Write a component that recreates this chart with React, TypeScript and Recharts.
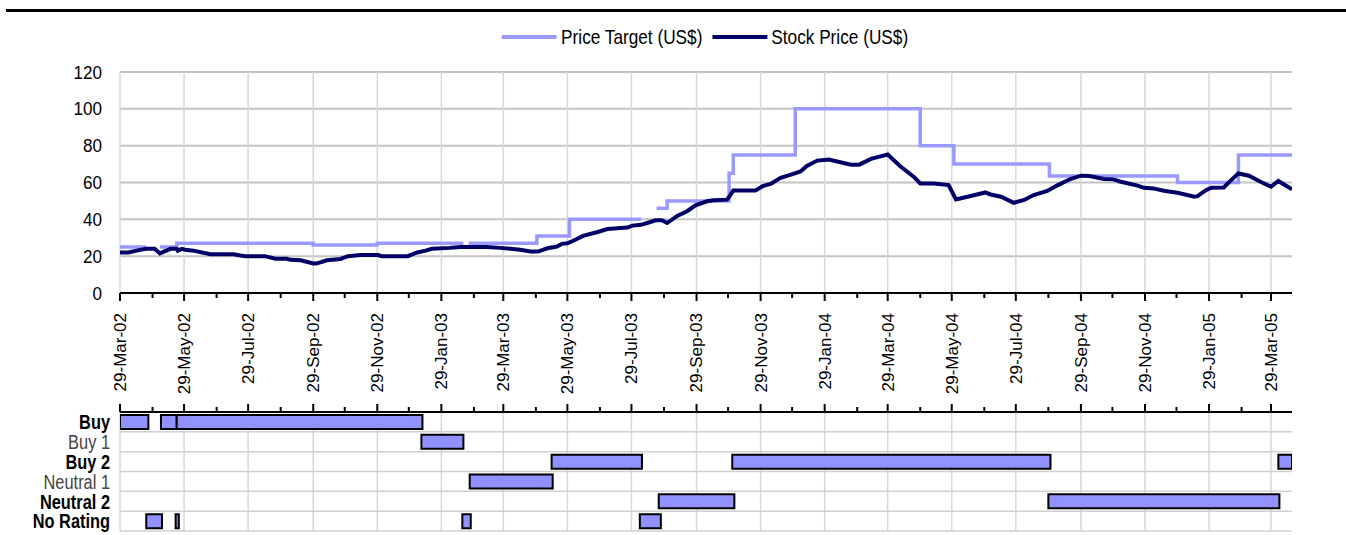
import {
  Bar,
  BarChart,
  CartesianGrid,
  Line,
  LineChart,
  ReferenceLine,
  XAxis,
  YAxis,
} from "recharts";

// no Arial Narrow here: Liberation Sans squeezed horizontally stands in for it
const SANS = "'Liberation Sans', Arial, sans-serif";
const NARROW_SCALE = 0.82;

const TARGET_COLOR = "#9999ff";
const STOCK_COLOR = "#000066";
const BAR_COLOR = "#9191ff";

const DAY_MS = 86400000;
const START = Date.UTC(2002, 2, 29); // day 0 = 29-Mar-02
const LAST_DAY = 1116;
const MONTHS = ["Jan", "Feb", "Mar", "Apr", "May", "Jun", "Jul", "Aug", "Sep", "Oct", "Nov", "Dec"];

// stock price, x = days since 29-Mar-02
const stockDays = [
  0, 8, 19, 25, 33, 38, 48, 54, 55, 59, 62, 70, 86, 108, 119, 138, 148, 159, 162, 172,
  184, 187, 197, 210, 217, 229, 246, 249, 274, 283, 291, 297, 314, 324, 349, 362, 381, 391, 398, 407,
  416, 421, 426, 432, 441, 454, 464, 477, 483, 488, 496, 502, 510, 516, 521, 531, 540, 548, 559, 565,
  578, 581, 584, 605, 612, 620, 629, 639, 648, 654, 664, 675, 696, 704, 715, 727, 731, 743, 756, 762,
  775, 789, 796, 807, 816, 824, 829, 839, 851, 861, 870, 883, 893, 905, 915, 923, 937, 946, 953, 969,
  975, 984, 994, 1007, 1023, 1026, 1034, 1039, 1051, 1058, 1065, 1075, 1086, 1096, 1103, 1116,
];
const stockPrices = [
  22, 22, 23.4, 24, 24, 21.5, 24, 24, 23, 24, 23.5, 23, 21, 21, 20, 20, 18.6, 18.6, 18, 17.8,
  16, 16, 17.8, 18.5, 20, 20.6, 20.6, 20, 20, 22, 23, 24, 24.5, 25, 25, 24.5, 23.5, 22.5, 22.5, 24.3,
  25.2, 26.7, 27, 28.5, 31, 33, 34.7, 35.3, 35.5, 36.6, 37, 38, 39.5, 39.5, 38, 42, 44.4, 47.6, 49.8, 50.4,
  50.7, 53, 55.6, 55.6, 58, 59.4, 62.5, 64.3, 66, 69, 71.9, 72.5, 69.7, 69.7, 72.8, 74.6, 75.2, 68.8, 63, 59.5,
  59.5, 58.6, 50.8, 52.3, 53.5, 54.6, 53.5, 52.3, 49, 50.5, 53.2, 55.4, 58.6, 61.9, 63.7, 63.5, 61.9, 61.7, 60.4, 58.3,
  57.1, 56.8, 55.5, 54.4, 52.3, 52.6, 55.8, 57.1, 57.3, 61.3, 64.9, 63.7, 60.4, 57.7, 60.8, 56.3,
];

// price target steps (null = no rating, line breaks)
const targetDays = [0, 25, 31, 38, 54, 184, 245, 327, 329, 332, 397, 428, 496, 503, 511, 521, 580, 584, 643, 762, 794, 885, 1007, 1065, 1116];
const targetPrices = [25, 25, null, 25, 27, 26, 27, 27, null, 27, 31, 40, 40, null, 46, 50, 65, 75, 100, 80, 70, 63.5, 60, 75, 75];

const priceTicks = [0, 20, 40, 60, 80, 100, 120];

// rating history, [from, to] in days since 29-Mar-02
const ratingNames = ["Buy", "Buy 1", "Buy 2", "Neutral 1", "Neutral 2", "No Rating"];
const boldRatings = ["Buy", "Buy 2", "Neutral 2", "No Rating"];
const buyPeriods = [[0, 27], [39, 54], [54, 288]];
const buy1Periods = [[287, 327]];
const buy2Periods = [[411, 497], [583, 886], [1103, 1116]];
const neutral1Periods = [[333, 412]];
const neutral2Periods = [[513, 585], [884, 1104]];
const noRatingPeriods = [[25, 40], [53, 56], [326, 334], [495, 515]];

const ratingPeriods = [buyPeriods, buy1Periods, buy2Periods, neutral1Periods, neutral2Periods, noRatingPeriods];
const periodKeys = ["p0", "p1", "p2", "p3"];

const stockData = stockDays.map((day, i) => ({ day, price: stockPrices[i] }));
const targetData = targetDays.map((day, i) => ({ day, price: targetPrices[i] }));
const ratingRows = ratingNames.map((rating, i) => {
  const row: Record<string, any> = { rating };
  periodKeys.forEach((key, k) => {
    row[key] = ratingPeriods[i][k];
  });
  return row;
});

// ticks on the 29th of every month, labelled every second month
const monthTicks = Array.from({ length: 37 }, (_, i) =>
  Math.round((Date.UTC(2002, 2 + i, 29) - START) / DAY_MS)
);
const labelledTicks = monthTicks.filter((_, i) => i % 2 === 0);

function dateLabel(day: number) {
  const d = new Date(START + day * DAY_MS);
  return `${d.getUTCDate()}-${MONTHS[d.getUTCMonth()]}-${String(d.getUTCFullYear()).slice(2)}`;
}

function PriceDateTick({ x, y, payload }: any) {
  const major = labelledTicks.includes(payload.value);
  return (
    <g>
      <line x1={x} x2={x} y1={y} y2={y + (major ? 8 : 5)} stroke="#000" strokeWidth={2} />
      {major && (
        <text
          x={x}
          y={y + 20}
          transform={`rotate(-90 ${x} ${y + 20})`}
          textAnchor="end"
          dy="0.35em"
          fontSize={17}
          fontFamily={SANS}
          fill="#000"
        >
          {dateLabel(payload.value)}
        </text>
      )}
    </g>
  );
}

function PriceTick({ x, y, payload }: any) {
  return (
    <text
      transform={`translate(${x} ${y}) scale(0.9 1)`}
      dy="0.35em"
      textAnchor="end"
      fontFamily={SANS}
      fontSize={19}
      fill="#000"
    >
      {payload.value}
    </text>
  );
}

function RatingDateTick({ x, y, payload }: any) {
  const major = labelledTicks.includes(payload.value);
  return <line x1={x} x2={x} y1={y} y2={y - (major ? 8 : 5)} stroke="#000" strokeWidth={2} />;
}

function RatingTick({ x, y, payload }: any) {
  const bold = boldRatings.includes(payload.value);
  return (
    <text
      transform={`translate(${x} ${y}) scale(0.78 1)`}
      dy="0.35em"
      textAnchor="end"
      fontFamily={SANS}
      fontSize={21}
      fontWeight={bold ? 700 : 400}
      fill={bold ? "#000" : "#444"}
    >
      {payload.value}
    </text>
  );
}

function LegendItem({ color, label }: { color: string; label: string }) {
  return (
    <span style={{ display: "flex", alignItems: "center", marginRight: 12 }}>
      <span style={{ width: 67, height: 3.5, background: color, marginRight: 5 }} />
      <span>{label}</span>
    </span>
  );
}

export default function App() {
  return (
    <div style={{ position: "absolute", left: 0, top: 0, width: 1346, height: 535, background: "#fff" }}>
      <div style={{ position: "absolute", left: 6, top: 9, width: 1340, height: 3, background: "#000" }} />

      <div
        style={{
          position: "absolute",
          left: 120,
          top: 24,
          width: 1180,
          height: 26,
          display: "flex",
          justifyContent: "center",
          alignItems: "center",
          fontFamily: SANS,
          fontSize: 21,
          color: "#000",
          transform: `scaleX(${NARROW_SCALE})`,
          transformOrigin: "center",
        }}
      >
        <LegendItem color={TARGET_COLOR} label="Price Target (US$)" />
        <LegendItem color={STOCK_COLOR} label="Stock Price (US$)" />
      </div>

      <div style={{ position: "absolute", left: 0, top: 0 }}>
        <LineChart width={1346} height={400} margin={{ top: 72, right: 54, bottom: 0, left: 0 }}>
          <CartesianGrid vertical={false} stroke="#c4c4c4" strokeWidth={2} />
          <CartesianGrid horizontal={false} verticalValues={labelledTicks} stroke="#d8d8d8" strokeWidth={1.5} />
          <XAxis
            type="number"
            dataKey="day"
            domain={[0, LAST_DAY]}
            ticks={monthTicks}
            interval={0}
            allowDataOverflow
            height={107}
            tickSize={0}
            tickMargin={0}
            tickLine={false}
            axisLine={{ stroke: "#000", strokeWidth: 2 }}
            tick={<PriceDateTick />}
          />
          <YAxis
            domain={[0, 120]}
            ticks={priceTicks}
            interval={0}
            width={120}
            axisLine={false}
            tickLine={false}
            tickSize={0}
            tickMargin={18}
            tick={<PriceTick />}
          />
          <Line
            data={targetData}
            dataKey="price"
            type="stepAfter"
            stroke={TARGET_COLOR}
            strokeWidth={3.5}
            dot={false}
            connectNulls={false}
            isAnimationActive={false}
          />
          <Line
            data={stockData}
            dataKey="price"
            type="linear"
            stroke={STOCK_COLOR}
            strokeWidth={4}
            dot={false}
            isAnimationActive={false}
          />
        </LineChart>
      </div>

      <div style={{ position: "absolute", left: 0, top: 396 }}>
        <BarChart
          layout="vertical"
          width={1346}
          height={139}
          data={ratingRows}
          margin={{ top: 0, right: 54, bottom: 4, left: 0 }}
          barSize={14}
          barGap={-14}
        >
          <CartesianGrid horizontal={false} verticalValues={labelledTicks} stroke="#d8d8d8" strokeWidth={1.5} />
          {ratingNames.map((name) => (
            <ReferenceLine key={name} y={name} position="end" stroke="#d0d0d0" strokeWidth={1.5} />
          ))}
          <XAxis
            type="number"
            orientation="top"
            domain={[0, LAST_DAY]}
            ticks={monthTicks}
            interval={0}
            allowDataOverflow
            height={16}
            tickSize={0}
            tickMargin={0}
            tickLine={false}
            axisLine={{ stroke: "#000", strokeWidth: 2 }}
            tick={<RatingDateTick />}
          />
          <YAxis
            type="category"
            dataKey="rating"
            width={120}
            interval={0}
            axisLine={false}
            tickLine={false}
            tickSize={0}
            tickMargin={10}
            tick={<RatingTick />}
          />
          {periodKeys.map((key) => (
            <Bar key={key} dataKey={key} fill={BAR_COLOR} stroke="#000" strokeWidth={2} isAnimationActive={false} />
          ))}
        </BarChart>
      </div>
    </div>
  );
}
